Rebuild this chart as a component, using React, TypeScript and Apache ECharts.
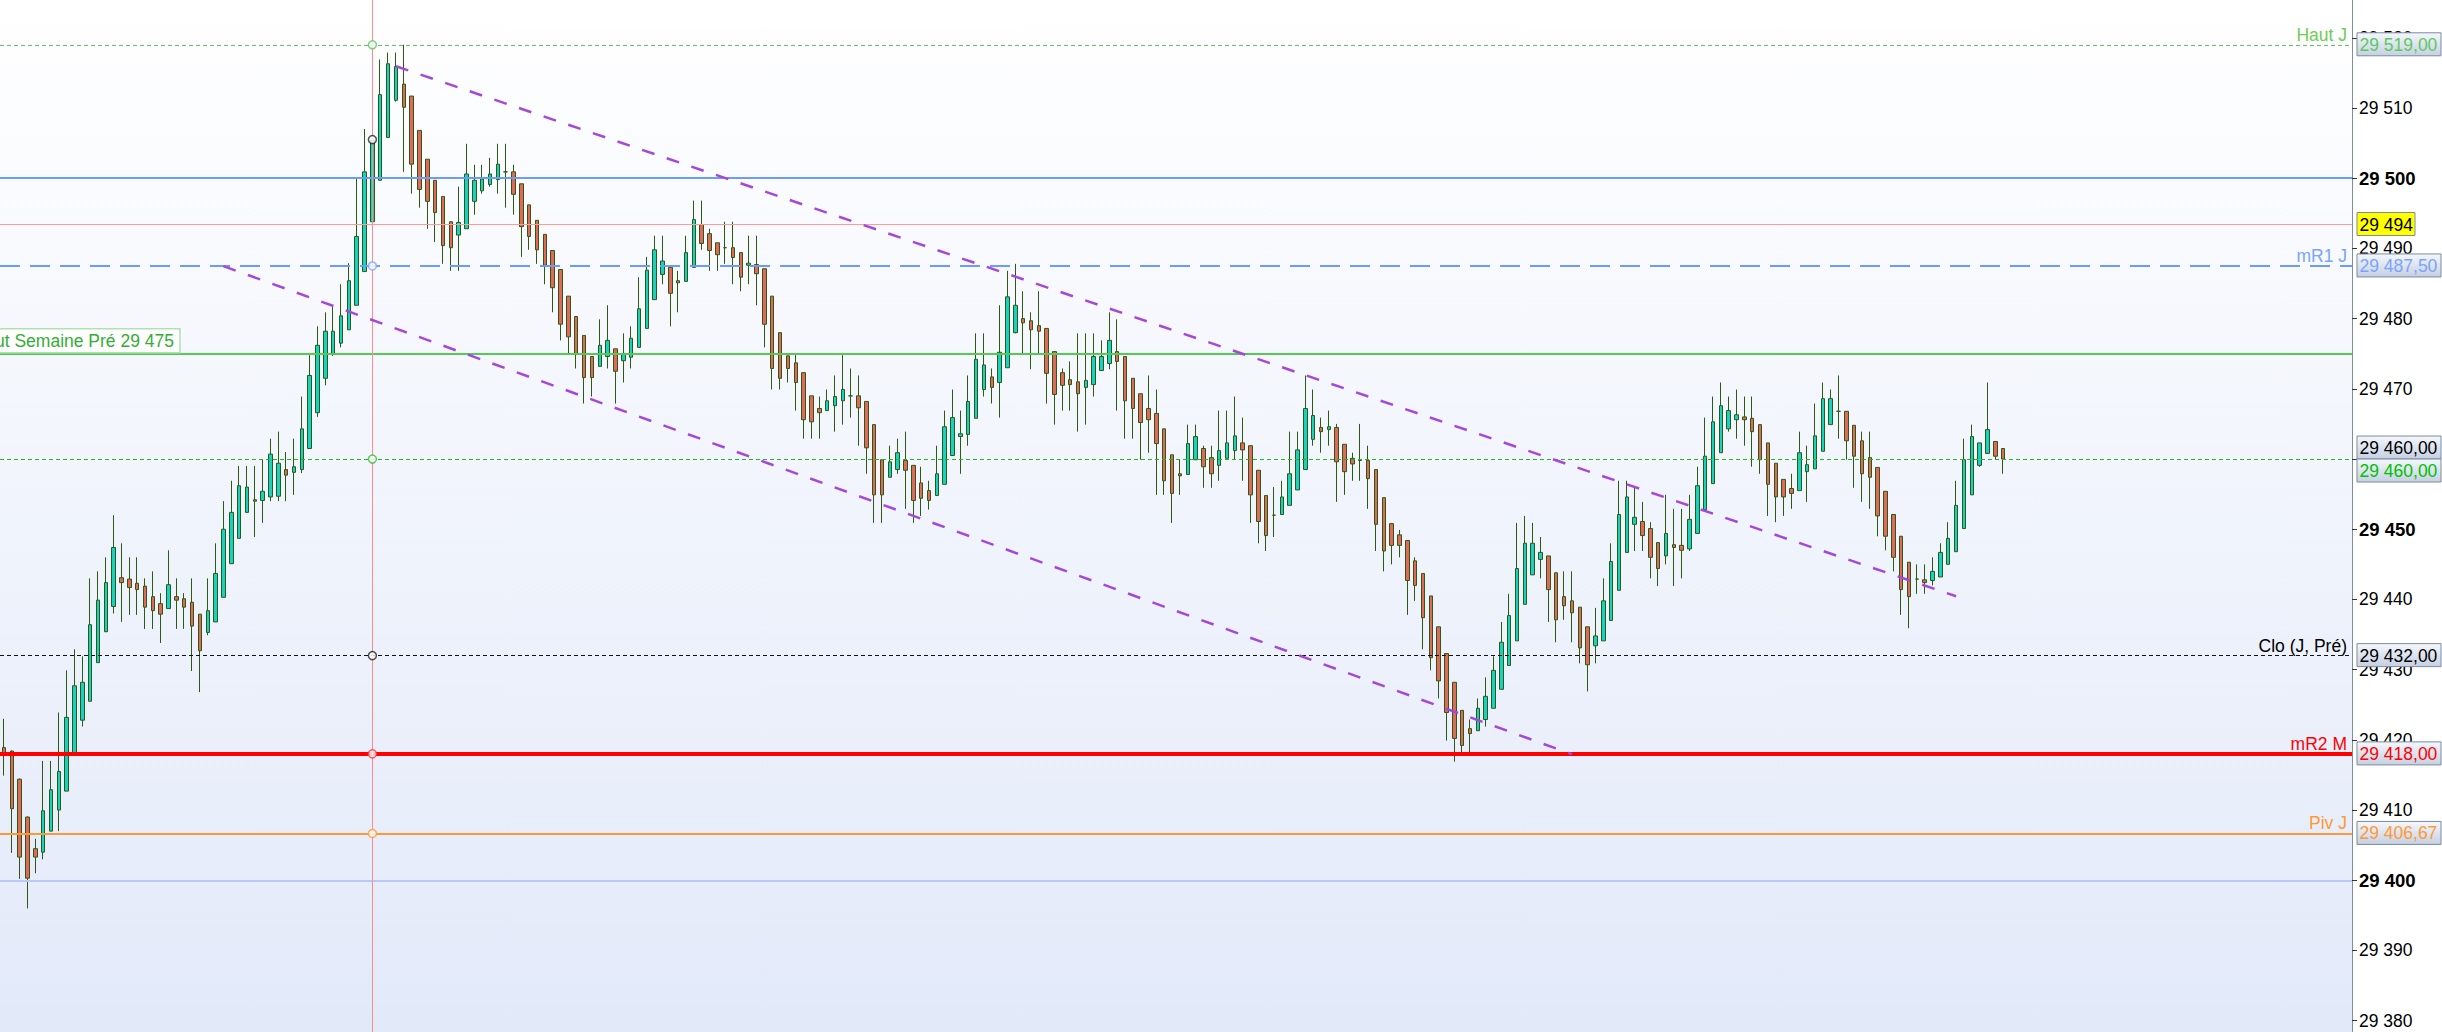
import React, { useEffect, useRef } from "react";
import * as echarts from "echarts";

// ---- Candle values (open, close, low, high), one entry per bar ----
const opens = [
  29418.9, 29418.4, 29414.4, 29409.0, 29404.5, 29404.0, 29407.0, 29410.0, 29412.7, 29418.0,
  29422.8, 29425.5, 29431.0, 29435.4, 29439.0, 29443.1, 29442.9, 29442.3, 29441.9, 29440.4,
  29439.4, 29438.7, 29440.4, 29440.1, 29439.6, 29437.9, 29435.3, 29436.8, 29440.3, 29445.1,
  29448.7, 29452.4, 29454.2, 29454.1, 29454.6, 29454.7, 29458.5, 29458.1, 29458.5, 29461.5,
  29466.6, 29471.5, 29474.9, 29476.5, 29478.4, 29481.9, 29486.7, 29493.8, 29499.7, 29505.8,
  29511.1, 29513.4, 29511.7, 29506.8, 29502.7, 29499.7, 29497.4, 29493.8, 29491.9, 29492.8,
  29496.7, 29498.2, 29499.1, 29499.8, 29500.9, 29500.9, 29499.2, 29496.2, 29494.0, 29492.0,
  29489.7, 29487.0, 29483.2, 29480.3, 29477.6, 29474.6, 29473.2, 29474.6, 29475.7, 29474.0,
  29474.5, 29475.9, 29478.6, 29482.7, 29486.3, 29487.3, 29485.4, 29485.3, 29487.3, 29493.4,
  29492.1, 29490.8, 29490.1, 29490.1, 29489.4, 29487.6, 29487.7, 29487.1, 29483.2, 29478.0,
  29474.7, 29473.7, 29472.3, 29469.0, 29467.2, 29466.9, 29467.6, 29468.3, 29469.0, 29469.0,
  29468.2, 29464.9, 29459.9, 29457.4, 29458.5, 29459.8, 29459.1, 29456.6, 29455.5, 29454.8,
  29456.4, 29460.5, 29463.2, 29463.5, 29465.8, 29469.9, 29471.7, 29470.9, 29473.0, 29478.0,
  29480.0, 29479.7, 29479.0, 29478.6, 29475.3, 29472.3, 29471.3, 29471.0, 29470.2, 29470.6,
  29472.6, 29473.6, 29475.3, 29474.6, 29471.5, 29469.3, 29467.2, 29466.5, 29464.3, 29460.6,
  29457.9, 29457.8, 29459.9, 29461.5, 29460.2, 29459.1, 29460.1, 29461.2, 29462.3, 29461.9,
  29458.4, 29454.8, 29452.0, 29452.1, 29453.4, 29455.6, 29458.5, 29462.8, 29464.5, 29464.2,
  29464.5, 29462.1, 29460.1, 29459.8, 29459.8, 29458.5, 29454.5, 29450.8, 29449.2, 29448.4,
  29445.5, 29443.7, 29440.5, 29436.1, 29432.3, 29428.2, 29424.2, 29421.6, 29421.3, 29422.9,
  29424.5, 29427.2, 29430.6, 29434.1, 29439.3, 29443.5, 29445.7, 29446.2, 29443.8, 29440.4,
  29439.8, 29438.9, 29436.1, 29433.4, 29434.1, 29437.0, 29441.3, 29446.7, 29450.7, 29451.1,
  29450.1, 29448.1, 29446.2, 29447.8, 29447.7, 29447.2, 29449.4, 29452.8, 29456.5, 29460.9,
  29464.3, 29465.6, 29466.0, 29465.8, 29464.9, 29462.3, 29459.4, 29457.1, 29455.8, 29455.5,
  29458.2, 29458.6, 29461.1, 29464.9, 29466.8, 29466.8, 29464.8, 29462.6, 29460.2, 29458.8,
  29455.4, 29452.1, 29449.0, 29445.3, 29442.9, 29442.8, 29442.7, 29443.2, 29445.0, 29446.8,
  29450.1, 29454.9, 29459.1, 29460.8, 29462.5, 29461.5,
];

const closes = [
  29418.0, 29410.2, 29403.3, 29400.3, 29403.3, 29409.9, 29412.9, 29415.5, 29423.2, 29427.7,
  29428.2, 29436.4, 29439.9, 29442.4, 29447.4, 29442.4, 29441.7, 29441.4, 29438.9, 29438.4,
  29437.9, 29442.1, 29439.9, 29438.9, 29436.2, 29432.7, 29438.4, 29443.7, 29450.0, 29452.4,
  29456.2, 29456.0, 29454.0, 29455.4, 29460.7, 29459.4, 29457.7, 29458.9, 29464.3, 29471.9,
  29476.2, 29478.2, 29478.2, 29480.4, 29485.4, 29491.7, 29500.9, 29505.4, 29511.9, 29516.3,
  29515.9, 29510.1, 29502.0, 29498.4, 29496.7, 29495.1, 29490.4, 29490.1, 29493.7, 29500.6,
  29499.7, 29499.9, 29500.6, 29502.0, 29500.9, 29497.7, 29493.1, 29491.7, 29489.8, 29487.6,
  29484.4, 29479.2, 29477.4, 29475.0, 29471.6, 29471.6, 29476.2, 29476.9, 29472.5, 29475.0,
  29477.2, 29481.4, 29486.9, 29489.8, 29488.2, 29483.6, 29485.1, 29489.4, 29494.1, 29490.7,
  29489.7, 29489.1, 29490.1, 29488.7, 29485.9, 29487.9, 29486.4, 29479.2, 29472.9, 29471.5,
  29472.9, 29470.9, 29465.6, 29465.3, 29466.6, 29468.3, 29468.9, 29469.9, 29469.0, 29467.3,
  29461.6, 29454.9, 29454.9, 29459.6, 29460.9, 29458.4, 29454.1, 29454.4, 29454.1, 29457.9,
  29464.6, 29465.9, 29463.6, 29468.2, 29474.2, 29473.4, 29470.2, 29475.2, 29483.1, 29481.9,
  29479.4, 29478.4, 29478.2, 29472.2, 29469.2, 29470.5, 29470.6, 29469.3, 29471.2, 29474.6,
  29474.6, 29476.9, 29473.9, 29468.3, 29467.2, 29465.2, 29465.6, 29462.2, 29456.9, 29455.1,
  29457.6, 29462.2, 29463.2, 29458.9, 29457.9, 29461.2, 29462.3, 29463.3, 29461.3, 29454.9,
  29451.1, 29449.1, 29452.0, 29454.6, 29457.9, 29461.3, 29467.2, 29466.2, 29463.9, 29464.6,
  29459.6, 29458.2, 29459.3, 29459.8, 29457.2, 29450.7, 29446.9, 29447.7, 29447.7, 29442.7,
  29442.0, 29437.4, 29431.7, 29428.4, 29423.9, 29420.2, 29419.2, 29420.9, 29424.5, 29426.2,
  29429.9, 29433.9, 29437.7, 29444.4, 29448.0, 29448.0, 29446.7, 29441.4, 29437.1, 29439.1,
  29438.1, 29433.1, 29430.7, 29434.8, 29439.8, 29445.4, 29452.1, 29454.6, 29451.7, 29449.1,
  29446.0, 29444.4, 29449.4, 29447.4, 29447.0, 29451.4, 29456.2, 29460.4, 29465.3, 29467.6,
  29466.9, 29466.3, 29465.6, 29463.9, 29459.9, 29456.4, 29454.6, 29454.6, 29455.1, 29460.9,
  29459.2, 29463.3, 29468.6, 29468.6, 29466.8, 29462.6, 29460.4, 29457.9, 29457.4, 29451.9,
  29449.0, 29446.0, 29441.4, 29440.4, 29442.9, 29442.4, 29444.0, 29446.7, 29448.7, 29453.4,
  29459.9, 29463.2, 29462.3, 29464.2, 29460.4, 29460.0,
];

const lows = [
  29414.9, 29403.9, 29400.2, 29396.0, 29401.0, 29403.0, 29407.0, 29407.0, 29412.7, 29418.0,
  29421.9, 29425.5, 29431.0, 29435.4, 29438.0, 29436.8, 29437.8, 29437.8, 29435.8, 29435.8,
  29433.8, 29438.7, 29435.8, 29435.8, 29429.8, 29426.8, 29434.9, 29436.8, 29440.3, 29445.1,
  29448.7, 29452.4, 29448.9, 29450.9, 29454.0, 29454.0, 29454.0, 29454.9, 29458.0, 29461.5,
  29466.0, 29470.5, 29474.7, 29475.9, 29478.4, 29481.9, 29486.7, 29493.8, 29499.7, 29505.8,
  29510.9, 29500.9, 29497.8, 29495.8, 29492.8, 29490.9, 29487.8, 29486.8, 29486.8, 29492.8,
  29494.8, 29497.8, 29498.8, 29497.8, 29495.8, 29494.8, 29488.8, 29489.8, 29487.8, 29484.9,
  29480.9, 29476.9, 29475.0, 29472.9, 29467.9, 29468.9, 29473.2, 29472.9, 29467.9, 29470.9,
  29472.9, 29475.9, 29478.6, 29482.7, 29484.9, 29478.9, 29480.9, 29485.3, 29487.3, 29489.8,
  29486.8, 29486.8, 29487.8, 29484.9, 29483.9, 29484.9, 29481.9, 29475.9, 29469.9, 29469.9,
  29470.9, 29466.9, 29462.9, 29462.9, 29462.9, 29466.9, 29463.9, 29464.9, 29465.9, 29461.9,
  29457.9, 29450.9, 29450.9, 29457.4, 29457.9, 29452.9, 29450.9, 29451.9, 29452.8, 29454.8,
  29456.4, 29460.5, 29457.9, 29461.9, 29465.8, 29468.9, 29467.9, 29465.9, 29473.0, 29477.9,
  29475.1, 29472.8, 29475.1, 29467.9, 29464.9, 29466.9, 29466.9, 29463.9, 29464.9, 29468.9,
  29472.6, 29472.8, 29466.9, 29462.9, 29462.9, 29459.9, 29460.9, 29454.9, 29454.9, 29450.9,
  29454.9, 29457.8, 29459.9, 29455.9, 29455.9, 29456.9, 29460.1, 29460.0, 29456.9, 29450.9,
  29448.0, 29446.9, 29448.9, 29452.1, 29453.4, 29455.6, 29458.5, 29461.9, 29460.9, 29461.9,
  29453.9, 29454.9, 29456.9, 29456.9, 29452.9, 29446.9, 29444.0, 29445.0, 29446.0, 29437.8,
  29439.8, 29432.9, 29429.9, 29425.9, 29419.9, 29416.9, 29418.0, 29418.2, 29421.3, 29421.9,
  29424.5, 29427.2, 29430.6, 29434.1, 29439.3, 29443.5, 29443.0, 29436.8, 29433.9, 29437.1,
  29433.9, 29430.9, 29426.9, 29430.9, 29434.1, 29437.0, 29441.3, 29446.7, 29446.9, 29446.9,
  29443.0, 29441.9, 29445.0, 29441.9, 29443.0, 29446.9, 29449.4, 29452.8, 29456.5, 29460.9,
  29463.9, 29462.9, 29461.9, 29458.9, 29457.9, 29451.9, 29451.0, 29451.9, 29452.9, 29455.5,
  29453.9, 29458.6, 29461.1, 29464.9, 29462.9, 29459.9, 29455.9, 29453.9, 29452.9, 29449.0,
  29447.0, 29444.0, 29437.8, 29435.9, 29440.8, 29440.8, 29442.0, 29443.2, 29445.0, 29446.8,
  29450.1, 29454.9, 29458.9, 29460.8, 29459.9, 29457.9,
];

const highs = [
  29423.0, 29418.5, 29414.5, 29409.1, 29405.9, 29417.0, 29417.0, 29423.9, 29429.9, 29432.9,
  29431.9, 29443.0, 29444.0, 29446.0, 29452.0, 29448.0, 29446.0, 29446.0, 29443.0, 29444.0,
  29440.9, 29447.0, 29443.0, 29440.9, 29443.0, 29437.9, 29443.0, 29448.0, 29454.0, 29456.9,
  29459.0, 29459.0, 29459.0, 29459.9, 29462.9, 29463.9, 29461.0, 29462.9, 29468.9, 29474.8,
  29478.9, 29480.9, 29481.9, 29484.9, 29487.9, 29499.9, 29507.0, 29507.9, 29516.9, 29517.9,
  29517.9, 29519.0, 29511.7, 29506.8, 29502.7, 29499.7, 29497.4, 29493.8, 29498.8, 29504.9,
  29501.9, 29501.9, 29502.9, 29504.9, 29504.9, 29501.9, 29499.2, 29496.2, 29494.0, 29492.0,
  29489.7, 29487.0, 29483.2, 29480.3, 29477.6, 29474.6, 29479.9, 29481.9, 29475.7, 29477.9,
  29478.9, 29485.9, 29488.8, 29491.8, 29491.8, 29487.3, 29486.8, 29491.8, 29496.8, 29496.8,
  29492.8, 29490.8, 29493.8, 29493.8, 29489.4, 29491.8, 29491.8, 29487.1, 29483.2, 29478.0,
  29474.7, 29474.8, 29472.3, 29469.0, 29468.9, 29469.9, 29471.9, 29474.8, 29472.9, 29471.9,
  29468.2, 29464.9, 29459.9, 29461.9, 29462.9, 29463.9, 29459.1, 29458.9, 29456.9, 29461.9,
  29466.9, 29469.9, 29466.9, 29471.9, 29477.9, 29477.9, 29472.9, 29481.9, 29486.8, 29487.8,
  29483.9, 29480.9, 29483.9, 29478.6, 29475.3, 29472.9, 29473.9, 29477.9, 29477.9, 29477.9,
  29476.9, 29480.9, 29479.9, 29474.6, 29471.5, 29469.3, 29471.9, 29469.9, 29464.3, 29460.6,
  29459.9, 29464.9, 29464.9, 29461.9, 29461.9, 29466.9, 29466.9, 29468.9, 29465.9, 29461.9,
  29458.4, 29454.8, 29456.0, 29456.9, 29463.9, 29463.9, 29471.9, 29469.9, 29465.9, 29466.9,
  29465.0, 29462.1, 29460.9, 29465.0, 29461.9, 29458.5, 29454.5, 29450.9, 29449.9, 29448.4,
  29446.0, 29443.7, 29440.5, 29436.1, 29432.3, 29428.2, 29424.2, 29422.9, 29425.9, 29428.9,
  29431.9, 29436.8, 29440.8, 29450.9, 29451.9, 29450.9, 29448.9, 29446.2, 29443.8, 29444.0,
  29444.0, 29438.9, 29436.1, 29438.8, 29443.0, 29448.0, 29456.9, 29456.9, 29455.9, 29453.9,
  29451.0, 29448.1, 29454.9, 29452.9, 29452.9, 29454.9, 29458.9, 29465.9, 29468.9, 29470.9,
  29468.9, 29469.9, 29468.9, 29468.9, 29464.9, 29462.3, 29459.4, 29457.1, 29457.9, 29463.9,
  29461.9, 29467.9, 29470.9, 29469.9, 29471.9, 29466.8, 29464.8, 29463.9, 29463.9, 29458.8,
  29455.4, 29452.1, 29449.0, 29445.3, 29445.0, 29445.0, 29446.0, 29448.0, 29451.0, 29456.9,
  29462.9, 29464.9, 29462.3, 29470.9, 29462.5, 29461.5,
];

// ---- Axis ----
const slotCount = 300; // bar slots across the plot (the right part is empty)
const categories = Array.from({ length: slotCount }, (_, i) => String(i + 1));
const yMin = 29378.39;
const yMax = 29525.38;
const yTickValues = [
  29380, 29390, 29400, 29410, 29420, 29430, 29440, 29450, 29460, 29470,
  29480, 29490, 29500, 29510, 29520,
];

// ---- Horizontal levels ----
const levelValues = [29519, 29500, 29493.4, 29487.5, 29475, 29460, 29432, 29418, 29406.67, 29400];
const levelColors = ["#5cc95c", "#6b9bff", "#ff9a9a", "#6b9bff", "#55c855", "#22b822", "#111111", "#ff0000", "#ff9933", "#b9c7fa"];
const levelWidths = [1, 2, 1, 2, 2, 1, 1, 4, 2, 2];
const levelDashes: any[] = [[4, 3], "solid", "solid", [20, 10], "solid", [4, 3], [4, 3], "solid", "solid", "solid"];

// Level names, written just left of the price axis
const tagNames = ["Haut J", "mR1 J", "Clo (J, Pré)", "mR2 M", "Piv J"];
const tagValues = [29519, 29487.5, 29432, 29418, 29406.67];
const tagColors = ["#6fcc55", "#7aa3ff", "#000000", "#ff0000", "#ff9933"];

// Price tags on the axis
const boxTexts = ["29 519,00", "29 494", "29 487,50", "29 460,00", "29 460,00", "29 432,00", "29 418,00", "29 406,67"];
const boxValues = [29519, 29493.4, 29487.5, 29460, 29460, 29432, 29418, 29406.67];
const boxColors = ["#5cc95c", "#000000", "#7aa3ff", "#000000", "#00c000", "#000000", "#ff0000", "#ff9933"];
const boxPlaces = ["mid", "mid", "mid", "above", "below", "mid", "mid", "mid"];

const weekHighLabel = "Haut Semaine Pré 29 475";
const weekHighValue = 29475;

// Cursor (vertical line with markers)
const cursorIndex = 47;
const cursorValues = [29519, 29505.5, 29487.5, 29460, 29432, 29418, 29406.67];
const cursorColors = ["#55cc55", "#222222", "#7aa3ff", "#33bb33", "#222222", "#ff3333", "#ff9933"];

// Trend lines [barIndex, price]
const upperTrend = [[50, 29515.95], [249, 29440.46]];
const lowerTrend = [[28, 29487.47], [200, 29417.96]];

const FONT = "'Liberation Sans', Arial, sans-serif";

const fmtTick = (v: number) => {
  const s = String(Math.round(v));
  return s.slice(0, s.length - 3) + " " + s.slice(-3);
};

export default function App() {
  const ref = useRef<HTMLDivElement>(null);

  useEffect(() => {
    if (!ref.current) return;
    const chart = echarts.init(ref.current, null, { renderer: "svg" });
    const gridRight = 90;

    const candleData = opens.map((o, i) => [o, closes[i], lows[i], highs[i]]);

    const option: any = {
      animation: false,
      grid: { left: 0, right: gridRight, top: 0, bottom: 0, containLabel: false },
      xAxis: {
        type: "category",
        data: categories,
        boundaryGap: true,
        show: false,
      },
      yAxis: {
        type: "value",
        position: "right",
        min: yMin,
        max: yMax,
        splitLine: { show: false },
        axisLine: { show: true, lineStyle: { color: "#7f8e9c", width: 1 } },
        axisTick: {
          show: true,
          length: 5,
          inside: false,
          lineStyle: { color: "#333333" },
          customValues: yTickValues,
        },
        axisLabel: {
          show: true,
          margin: 7,
          customValues: yTickValues,
          formatter: (v: number) =>
            Math.round(v) % 50 === 0 ? `{b|${fmtTick(v)}}` : `{n|${fmtTick(v)}}`,
          rich: {
            b: { fontFamily: FONT, fontSize: 18.5, fontWeight: "bold", color: "#000" },
            n: { fontFamily: FONT, fontSize: 17.5, color: "#000" },
          },
        },
      },
      series: [
        {
          type: "candlestick",
          z: 2,
          barWidth: 4,
          data: candleData,
          itemStyle: {
            color: "#16d2c3",
            color0: "#e1685b",
            borderColor: "#2d5a13",
            borderColor0: "#2d5a13",
            borderColorDoji: "#2d5a13",
            borderWidth: 1,
          },
        },
        {
          type: "line",
          z: 4,
          data: [],
          silent: true,
          markLine: {
            silent: true,
            symbol: ["none", "none"],
            label: { show: false },
            animation: false,
            data: [
              ...levelValues.map((v, i) => ({
                yAxis: v,
                lineStyle: { color: levelColors[i], width: levelWidths[i], type: levelDashes[i] },
              })),
              {
                xAxis: categories[cursorIndex],
                lineStyle: { color: "#ff8c8c", width: 1, type: "solid" },
              },
            ],
          },
        },
        {
          type: "line",
          z: 5,
          data: upperTrend,
          symbol: "none",
          silent: true,
          lineStyle: { color: "#a548d8", width: 2.5, type: [13, 13] },
        },
        {
          type: "line",
          z: 5,
          data: lowerTrend,
          symbol: "none",
          silent: true,
          lineStyle: { color: "#a548d8", width: 2.5, type: [13, 13] },
        },
        {
          type: "scatter",
          z: 10,
          silent: true,
          symbol: "circle",
          symbolSize: 8,
          data: cursorValues.map((v, i) => ({
            value: [cursorIndex, v],
            itemStyle: { color: "#ffffff", borderColor: cursorColors[i], borderWidth: 1.5 },
          })),
        },
      ],
    };

    chart.setOption(option);

    const W = chart.getWidth();
    const H = chart.getHeight();
    const plotRight = W - gridRight;
    const py = (v: number) => chart.convertToPixel({ yAxisIndex: 0 }, v) as number;

    const g: any[] = [];
    // plot background gradient
    g.push({
      type: "rect",
      z: -10,
      silent: true,
      shape: { x: 0, y: 0, width: plotRight, height: H },
      style: {
        fill: new echarts.graphic.LinearGradient(0, 0, 0, 1, [
          { offset: 0, color: "#ffffff" },
          { offset: 1, color: "#e2e9f9" },
        ]),
      },
    });

    // level names
    tagNames.forEach((t, i) => {
      g.push({
        type: "text",
        z: 20,
        silent: true,
        x: plotRight - 5,
        y: py(tagValues[i]) - 1,
        style: {
          text: t,
          fill: tagColors[i],
          fontSize: 17.5,
          fontFamily: FONT,
          align: "right",
          verticalAlign: "bottom",
        },
      });
    });

    // week high label box
    const wy = py(weekHighValue);
    g.push({
      type: "rect",
      z: 20,
      silent: true,
      shape: { x: -4, y: wy - 25, width: 184, height: 24 },
      style: { fill: "rgba(255,255,255,0.85)", stroke: "#b2e0b2", lineWidth: 1.5 },
    });
    g.push({
      type: "text",
      z: 21,
      silent: true,
      x: 174,
      y: wy - 13,
      style: {
        text: weekHighLabel,
        fill: "#35ad35",
        fontSize: 17.5,
        fontFamily: FONT,
        align: "right",
        verticalAlign: "middle",
      },
    });

    // price tags
    boxTexts.forEach((t, i) => {
      const y0 = py(boxValues[i]);
      const place = boxPlaces[i];
      const top = place === "mid" ? y0 - 12 : place === "above" ? y0 - 23 : y0;
      const isYellow = t === "29 494";
      const w = isYellow ? 58 : 84;
      g.push({
        type: "rect",
        z: 30,
        silent: true,
        shape: { x: plotRight + 5, y: top, width: w, height: 23 },
        style: {
          fill: isYellow
            ? "#ffff00"
            : new echarts.graphic.LinearGradient(0, 0, 0, 1, [
                { offset: 0, color: "#f4f7fc" },
                { offset: 1, color: "#c6d0e2" },
              ]),
          stroke: "#7d8c9b",
          lineWidth: 1,
        },
      });
      g.push({
        type: "text",
        z: 31,
        silent: true,
        x: plotRight + 7.5,
        y: top + 12,
        style: {
          text: t,
          fill: boxColors[i],
          fontSize: 17.5,
          fontFamily: FONT,
          align: "left",
          verticalAlign: "middle",
        },
      });
    });

    chart.setOption({ graphic: g });

    return () => chart.dispose();
  }, []);

  return (
    <div
      ref={ref}
      style={{ position: "absolute", left: 0, top: 0, width: 2442, height: 1032 }}
    />
  );
}
